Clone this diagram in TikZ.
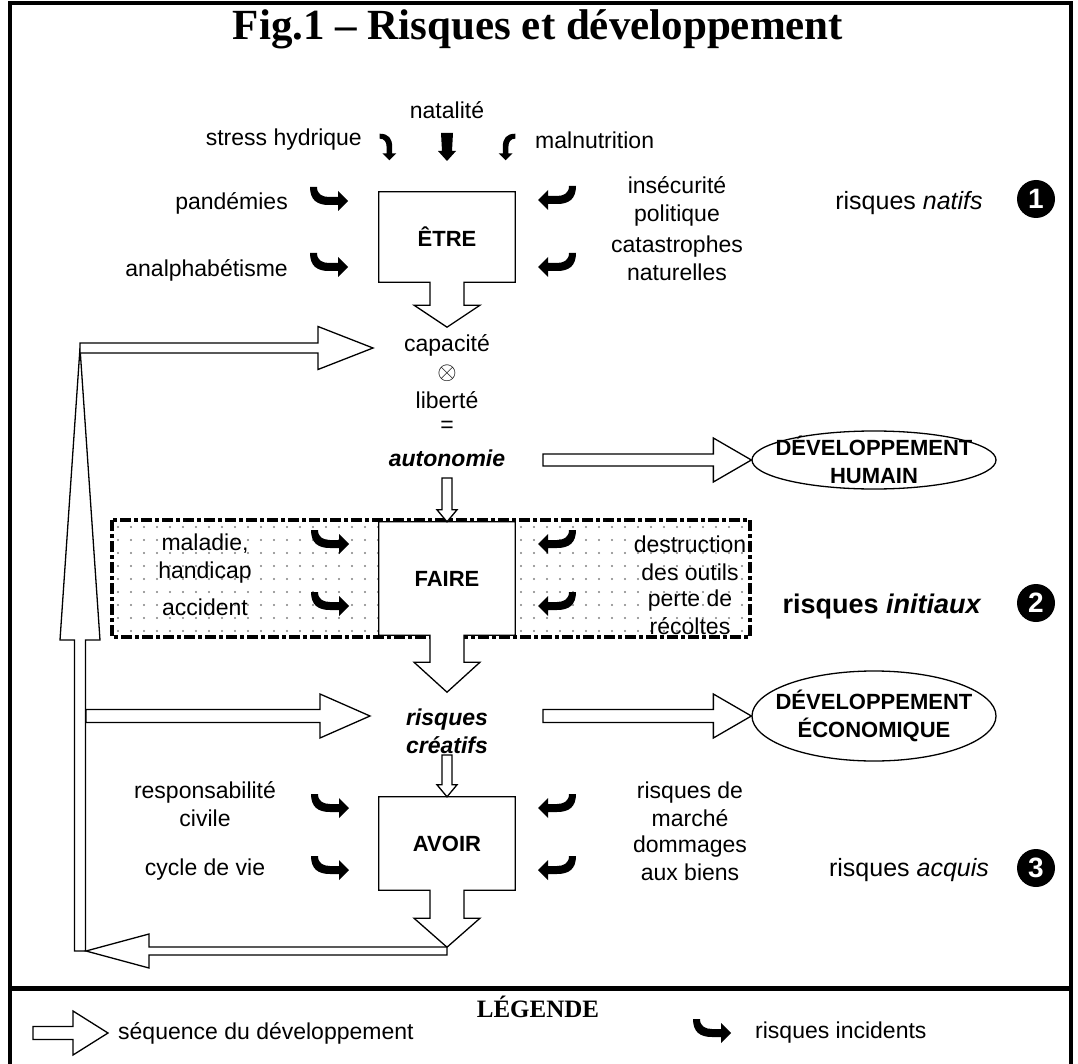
\documentclass[tikz,border=0pt]{standalone}
\usepackage{fontspec}
\setmainfont{Liberation Sans}
\newfontfamily\titlefont{Liberation Serif}
\usetikzlibrary{calc,shapes.geometric}

\tikzset{
  lbl/.style={font=\fontsize{23}{28}\selectfont, align=center, inner sep=0pt},
  risk/.style={font=\fontsize{25}{30}\selectfont, inner sep=0pt},
  seq/.style={draw, fill=white, line width=1.3pt, line join=miter},
  actbox/.style={draw=none, minimum width=136pt, inner sep=0pt},
  boxtxt/.style={font=\bfseries\fontsize{22}{28}\selectfont},
  goal/.style={ellipse, draw, line width=1.3pt, minimum width=244pt, inner sep=0pt},
  goaltxt/.style={font=\bfseries\fontsize{22}{28}\selectfont, align=center, inner sep=0pt},
  num/.style={circle, fill=black, text=white, minimum size=38pt, inner sep=0pt, font=\bfseries\fontsize{28}{28}\selectfont},
  zone/.style={line width=4pt, dash pattern=on 11pt off 3pt on 4pt off 3pt},
  hook/.pic={\fill (-19,-12) .. controls (-19,1) and (-12,6) .. (0,6) -- (9,6) -- (9,12) -- (19,2) -- (9,-8) -- (9,-2) -- (0,-2) .. controls (-7,-2) and (-12,-5) .. (-12,-12) -- cycle;},
  drop/.pic={\fill (-6,-14) -- (6,-14) -- (5,4) -- (9,4) -- (0,14) -- (-9,4) -- (-5,4) -- cycle;}
}

% open arrow: from, to, stem half width, head half width, head length
\newcommand{\seqarrow}[5]{%
  \coordinate (sq-h) at ($(#2)!#5!(#1)$);
  \draw[seq] ($(#1)!#3!90:(#2)$) -- ($(sq-h)!#3!90:(#2)$) -- ($(sq-h)!#4!90:(#2)$) -- (#2)
    -- ($(sq-h)!#4!-90:(#2)$) -- ($(sq-h)!#3!-90:(#2)$) -- ($(#1)!#3!-90:(#2)$) -- cycle;}

% box with its outgoing arrow: name, position, height, stem, head, text
\newcommand{\actbox}[6]{%
  \node[actbox, minimum height=#3] (#1) at (#2) {};
  \draw[seq] (#1.south west) |- (#1.north east) |- ($(#1.south)+(17,0)$) -- ++(0,#4) -- ++(16,0)
    -- ++(-33,#5) -- ++(-33,-#5) -- ++(16,0) -- ++(0,-#4) -- cycle;
  \node[boxtxt] at (#1) {#6};}

\begin{document}
\begin{tikzpicture}[x=1pt, y=-1pt]
\useasboundingbox (0,0) rectangle (1078,1064);

% frame
\draw[line width=4pt] (10,1070) -- (10,3) -- (1071,3) -- (1071,1070);
\draw[line width=5pt] (10,988) -- (1071,988);
\node[font=\titlefont\bfseries\fontsize{43}{43}\selectfont] (title) at (538,29) {Fig.1 – Risques et développement};

% ETRE
\node[lbl] (natal) at (447,110) {natalité};
\node[lbl, anchor=east] (stress) at (362,140) {stress hydrique};
\node[lbl, anchor=west] (malnut) at (535,140) {malnutrition};
\pic at (447,147) {drop};
\pic[xscale=-1, rotate=-90, scale=0.7] at (388,147) {hook};
\pic[rotate=-90, scale=0.7] at (507,147) {hook};

\actbox{etre}{447,237}{90}{23}{22}{ÊTRE}

\node[lbl, anchor=east] (pandem) at (288,203) {pandémies};
\node[lbl, anchor=east] (analph) at (288,270) {analphabétisme};
\pic at (329,199) {hook};
\pic at (329,265) {hook};
\node[lbl] (insec) at (677,201) {insécurité\\politique};
\node[lbl] (catas) at (677,258) {catastrophes\\naturelles};
\pic[xscale=-1] at (557,198) {hook};
\pic[xscale=-1] at (557,265) {hook};
\node[risk] (natifs) at (909,203) {risques \textit{natifs}};
\node[num] (n1) at (1036,199) {1};

% autonomie
\node[lbl] (capac) at (447,345) {capacité};
\node[lbl] (otimes) at (447,373) {$\otimes$};
\node[lbl] (lib) at (447,400) {liberté};
\node[lbl] (egal) at (447,427) {=};
\node[lbl, font=\bfseries\itshape\fontsize{23}{28}\selectfont] (auto) at (447,458) {autonomie};

% loop back
\coordinate (loopbot) at (80,951);
\coordinate (looptop) at (80,348);
\coordinate (capin) at (373,348);
\seqarrow{loopbot}{looptop}{5.5pt}{20pt}{292pt}
\seqarrow{looptop}{capin}{5pt}{21.5pt}{55pt}

\node[goal, minimum height=58] (dh) at (874,460) {};
\node[goaltxt] at (dh) {DÉVELOPPEMENT\\HUMAIN};
\coordinate (autout) at (543,460);
\seqarrow{autout}{dh.west}{6pt}{22pt}{38pt}

% FAIRE
\foreach \x in {118,131,...,745}
  \foreach \y in {527,540,...,632}
    \fill[black!50] (\x,\y) circle (1.2);
\draw[zone] (112,520) rectangle (750,637);

\actbox{faire}{447,578.5}{113}{27}{30}{FAIRE}
\coordinate (autobot) at (447,478);
\seqarrow{autobot}{faire.north}{5pt}{10pt}{12pt}

\node[lbl] (malad) at (205,559) {maladie,\\handicap};
\node[lbl] (accid) at (205,607) {accident};
\pic at (330,542) {hook};
\pic at (330,604) {hook};
\pic[xscale=-1] at (557,542) {hook};
\pic[xscale=-1] at (557,604) {hook};
\node[lbl] (destr) at (690,558) {destruction\\des outils};
\node[lbl] (perte) at (690,612) {perte de\\récoltes};
\node[risk, font=\bfseries\fontsize{27}{30}\selectfont] (initx) at (882,607) {risques \textit{initiaux}};
\node[num] (n2) at (1036,603) {2};

% risques creatifs
\node[lbl, font=\bfseries\itshape\fontsize{23}{28}\selectfont] (creat) at (447,731) {risques\\créatifs};
\coordinate (loopmid) at (86,716);
\coordinate (creatin) at (370,716);
\seqarrow{loopmid}{creatin}{6.5pt}{22pt}{50pt}
\node[goal, minimum height=90] (de) at (874,716) {};
\node[goaltxt] at (de) {DÉVELOPPEMENT\\ÉCONOMIQUE};
\coordinate (creatout) at (543,716);
\seqarrow{creatout}{de.west}{6.5pt}{22pt}{38pt}

% AVOIR
\actbox{avoir}{447,843.5}{93}{28}{29}{AVOIR}
\coordinate (creatbot) at (447,755);
\seqarrow{creatbot}{avoir.north}{5pt}{10pt}{12pt}

\node[lbl] (respo) at (205,804) {responsabilité\\civile};
\node[lbl] (cycle) at (205,870) {cycle de vie};
\pic at (330,806) {hook};
\pic at (330,868) {hook};
\pic[xscale=-1] at (557,806) {hook};
\pic[xscale=-1] at (557,868) {hook};
\node[lbl] (march) at (690,804) {risques de\\marché};
\node[lbl] (domm) at (690,858) {dommages\\aux biens};
\node[risk] (acquis) at (909,870) {risques \textit{acquis}};
\node[num] (n3) at (1036,868) {3};

\coordinate (avoirtip) at (447,951);
\coordinate (retour) at (86,951);
\seqarrow{avoirtip}{retour}{4pt}{17pt}{63pt}

% legende
\node[font=\titlefont\bfseries\fontsize{25}{25}\selectfont] (leg) at (538,1007) {LÉGENDE};
\coordinate (lega) at (33,1033);
\coordinate (legb) at (108,1033);
\seqarrow{lega}{legb}{6.5pt}{22pt}{35pt}
\node[lbl, anchor=west] (seqtxt) at (118,1033) {séquence du développement};
\pic at (712,1031) {hook};
\node[lbl, anchor=west] (inctxt) at (755,1033) {risques incidents};
\end{tikzpicture}
\end{document}
